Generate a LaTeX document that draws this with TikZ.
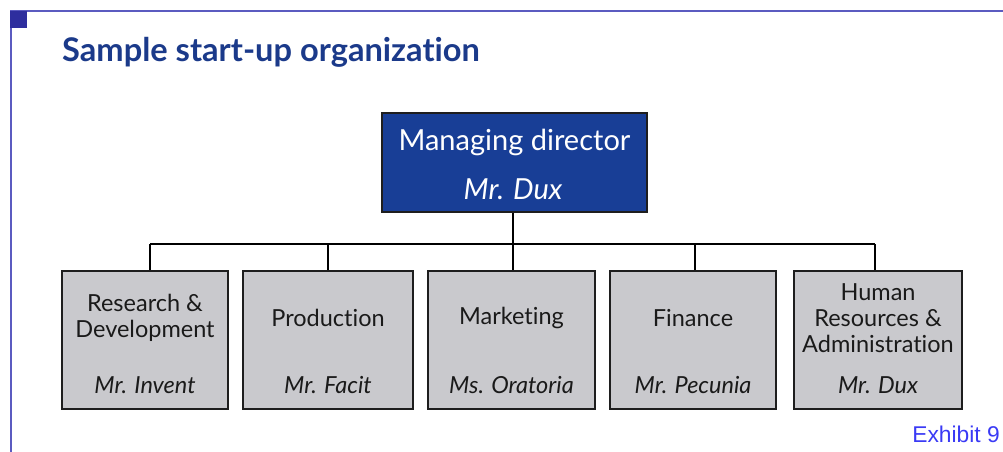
\documentclass[tikz,border=0pt]{standalone}
\usepackage{fontspec}
\setmainfont[RawFeature=-liga]{Lato}
\newfontfamily\arialfont{Liberation Sans}
\definecolor{framec}{HTML}{5B5BC0}
\definecolor{squarec}{HTML}{2E2E9E}
\definecolor{titlec}{HTML}{1B3A8A}
\definecolor{mdfill}{HTML}{183E96}
\definecolor{unitfill}{HTML}{C9C9CD}
\definecolor{boxline}{HTML}{1E1E1E}
\definecolor{textc}{HTML}{1A1A1A}
\definecolor{exc}{HTML}{3A3AF5}
\begin{document}
\begin{tikzpicture}[x=1pt,y=-1pt,
  frameline/.style={draw=framec, line width=2pt},
  unit/.style={draw=boxline, fill=unitfill, line width=1.5pt, inner sep=0pt, minimum height=138pt},
  head/.style={draw=boxline, fill=mdfill, line width=1.5pt, inner sep=0pt, minimum width=265pt, minimum height=99pt},
  link/.style={draw=black, line width=1.5pt},
  lbl/.style={font=\fontsize{23.5}{26}\selectfont, align=center, text=textc, inner sep=0pt},
  who/.style={font=\fontsize{23.5}{26}\selectfont\itshape, anchor=base, text=textc, inner sep=0pt}]
\useasboundingbox (0,0) rectangle (1003,452);
% frame
\draw[frameline] (11,452) -- (11,11) -- (1003,11);
\fill[squarec] (10,11) rectangle (27,28);
% title
\node[anchor=base west, inner sep=0pt, font=\fontsize{32.6}{34}\selectfont\bfseries, text=titlec] (title) at (62,62) {Sample start-up organization};
% head box
\node[head] (md) at (514.5,162.5) {};
\node[anchor=base, inner sep=0pt, text=white, font=\fontsize{29}{32}\selectfont] (mdt) at (514.5,150) {Managing director};
\node[anchor=base, inner sep=0pt, text=white, font=\fontsize{29}{32}\selectfont\itshape] (mdn) at (513,199) {Mr. Dux};
% units
\node[unit, minimum width=166pt] (rd) at (145,340) {};
\node[unit, minimum width=170pt] (pr) at (328,340) {};
\node[unit, minimum width=167pt] (mk) at (511.5,340) {};
\node[unit, minimum width=166pt] (fi) at (693,340) {};
\node[unit, minimum width=168pt] (hr) at (878,340) {};
% labels
\node[lbl] (rdt) at (145,318) {Research \&\\Development};
\node[lbl] (prt) at (328,318) {Production};
\node[lbl] (mkt) at (511.5,318) {Marketing};
\node[lbl] (fit) at (693,318) {Finance};
\node[lbl] (hrt) at (878,318) {Human\\Resources \&\\Administration};
\node[who] (rdn) at (145,393) {Mr. Invent};
\node[who] (prn) at (328,393) {Mr. Facit};
\node[who] (mkn) at (511.5,393) {Ms. Oratoria};
\node[who] (fin) at (693,393) {Mr. Pecunia};
\node[who] (hrn) at (878,393) {Mr. Dux};
% connectors
\coordinate (b1) at (150,244);
\coordinate (b2) at (328,244);
\coordinate (b3) at (513,244);
\coordinate (b4) at (695,244);
\coordinate (b5) at (875,244);
\draw[link] (md.south -| b3) -- (b3);
\draw[link] (b1) -- (b5);
\draw[link] (b1) -- (b1 |- rd.north);
\draw[link] (b2) -- (b2 |- pr.north);
\draw[link] (b3) -- (b3 |- mk.north);
\draw[link] (b4) -- (b4 |- fi.north);
\draw[link] (b5) -- (b5 |- hr.north);
% exhibit label
\node[anchor=base east, inner sep=0pt, font=\arialfont\fontsize{22.8}{24}\selectfont, text=exc] (ex) at (1000,442) {Exhibit 9};
\end{tikzpicture}
\end{document}
